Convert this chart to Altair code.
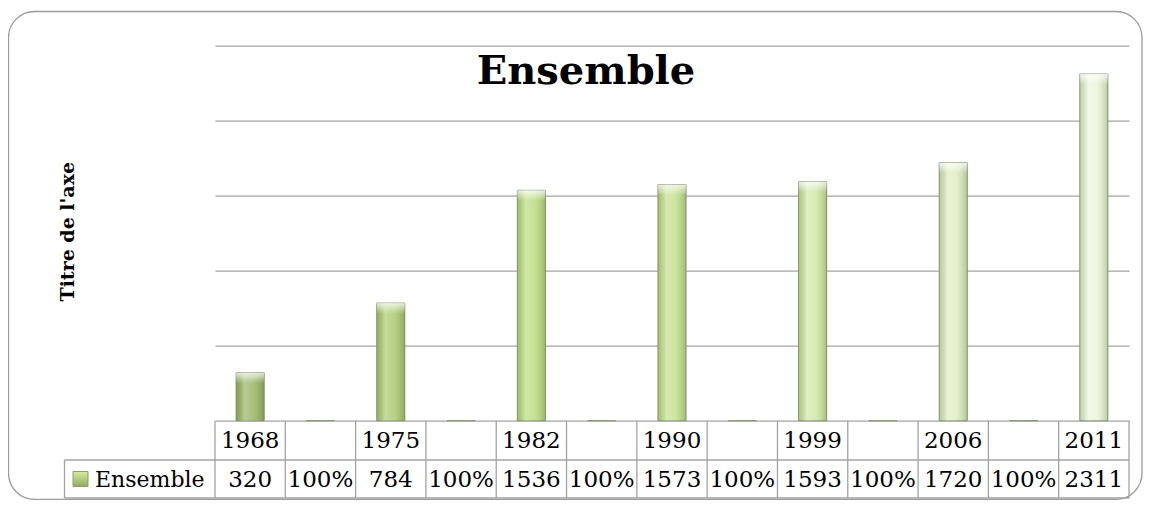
import altair as alt
import pandas as pd

# ---- data ----
years = ["1968", "", "1975", "", "1982", "", "1990", "", "1999", "", "2006", "", "2011"]
values = [320, 1, 784, 1, 1536, 1, 1573, 1, 1593, 1, 1720, 1, 2311]
value_labels = ["320", "100%", "784", "100%", "1536", "100%", "1573", "100%",
                "1593", "100%", "1720", "100%", "2311"]
series_name = "Ensemble"
chart_title = "Ensemble"
axis_title = "Titre de l'axe"
y_ticks = [0, 500, 1000, 1500, 2000, 2500]

# ---- style ----
palette = ["#98b463", "#d0d0d0", "#abca70", "#d0d0d0", "#bcdc80", "#d0d0d0", "#c4e18e",
           "#d0d0d0", "#d0e8a6", "#d0d0d0", "#ddeec2", "#d0d0d0", "#ecf5dc"]
FONT = "DejaVu Serif"
GRID = "#a3a3a3"
W, H = 914, 375

n = len(years)
df = pd.DataFrame({"idx": list(range(n)), "year": years, "value": values, "label": value_labels})
bounds = pd.DataFrame({"b": list(range(n + 1))})
one = pd.DataFrame({"k": [0]})

xs = alt.Scale(domain=[0, n], nice=False, zero=False)
ys = alt.Scale(domain=[0, 2500], nice=False)

base = alt.Chart(df).transform_calculate(
    x0="datum.idx + 0.3", x1="datum.idx + 0.7", xc="datum.idx + 0.5"
)

frame = alt.Chart(one).mark_rect(
    fill="transparent", stroke="#9c9c9c", strokeWidth=1.3, cornerRadius=26
).encode(x=alt.value(-206.5), x2=alt.value(927), y=alt.value(-34.2), y2=alt.value(453.6))

bars = base.mark_bar(stroke="#8d9a78", strokeWidth=1).encode(
    x=alt.X("x0:Q", scale=xs, axis=None),
    x2="x1:Q",
    y=alt.Y("value:Q", scale=ys,
            axis=alt.Axis(values=y_ticks, labels=False, ticks=False, domain=False,
                          grid=True, gridColor=GRID, gridWidth=1.3, title=None)),
    y2=alt.datum(0),
    color=alt.Color("idx:O", scale=alt.Scale(domain=list(range(n)), range=palette), legend=None),
)

shine = alt.Gradient(
    gradient="linear", x1=0, x2=1, y1=0, y2=0,
    stops=[
        alt.GradientStop(offset=0, color="rgba(60,80,20,0.22)"),
        alt.GradientStop(offset=0.3, color="rgba(255,255,255,0.30)"),
        alt.GradientStop(offset=0.6, color="rgba(255,255,255,0.16)"),
        alt.GradientStop(offset=1, color="rgba(60,80,20,0.26)"),
    ],
)
real = base.transform_filter("datum.value > 1")
gloss = real.mark_bar(fill=shine, strokeWidth=0).encode(
    x="x0:Q", x2="x1:Q", y="value:Q", y2=alt.datum(0)
)

cap_fill = alt.Gradient(
    gradient="linear", x1=0, x2=0, y1=0, y2=1,
    stops=[alt.GradientStop(offset=0, color="rgba(255,255,255,0.75)"),
           alt.GradientStop(offset=1, color="rgba(255,255,255,0)")],
)
cap = real.transform_calculate(ycap="datum.value - 70").mark_bar(fill=cap_fill, strokeWidth=0).encode(
    x="x0:Q", x2="x1:Q", y="value:Q", y2="ycap:Q"
)

vlines = alt.Chart(bounds).mark_rule(color=GRID, strokeWidth=1.3).encode(
    x="b:Q", y=alt.value(375), y2=alt.value(452.3)
)
hline1 = alt.Chart(one).mark_rule(color=GRID, strokeWidth=1.3).encode(
    x=alt.value(-150.5), x2=alt.value(W), y=alt.value(414.3)
)
hline2 = alt.Chart(one).mark_rule(color=GRID, strokeWidth=1.3).encode(
    x=alt.value(-150.5), x2=alt.value(W), y=alt.value(452.3)
)
vleft = alt.Chart(one).mark_rule(color=GRID, strokeWidth=1.3).encode(
    x=alt.value(-150.5), y=alt.value(414.3), y2=alt.value(452.3)
)

row1 = base.mark_text(font=FONT, fontSize=23, color="black", baseline="middle").encode(
    x="xc:Q", y=alt.value(395.5), text="year:N"
)
row2 = base.mark_text(font=FONT, fontSize=23, color="black", baseline="middle").encode(
    x="xc:Q", y=alt.value(434.3), text="label:N"
)

swatch_fill = alt.Gradient(
    gradient="linear", x1=0, x2=0, y1=0, y2=1,
    stops=[alt.GradientStop(offset=0, color="#d6ec9e"),
           alt.GradientStop(offset=1, color="#93ad5f")],
)
swatch = alt.Chart(one).mark_rect(fill=swatch_fill, stroke="#8d9a78", strokeWidth=1).encode(
    x=alt.value(-142), x2=alt.value(-127), y=alt.value(425.8), y2=alt.value(440.8)
)
legend_text = alt.Chart(one).mark_text(
    font=FONT, fontSize=22, color="black", align="left", baseline="middle"
).encode(x=alt.value(-120), y=alt.value(434.3), text=alt.value(series_name))

title = alt.Chart(one).mark_text(
    font=FONT, fontSize=40, fontWeight="bold", color="black", align="center", baseline="alphabetic"
).encode(x=alt.value(371), y=alt.value(38.6), text=alt.value(chart_title))

ytitle = alt.Chart(one).mark_text(
    font=FONT, fontSize=19, fontWeight="bold", color="black", align="center",
    baseline="middle", angle=270
).encode(x=alt.value(-147), y=alt.value(186), text=alt.value(axis_title))

chart = alt.layer(
    frame, bars, gloss, cap, vlines, hline1, hline2, vleft, row1, row2,
    swatch, legend_text, title, ytitle
).properties(
    width=W, height=H,
    autosize=alt.AutoSizeParams(type="none"),
    padding={"left": 207, "top": 37.7, "right": 14, "bottom": 79.3},
    background="white",
).configure_view(stroke=None)

chart.save("out.html", embed_options={"renderer": "svg", "actions": False})
